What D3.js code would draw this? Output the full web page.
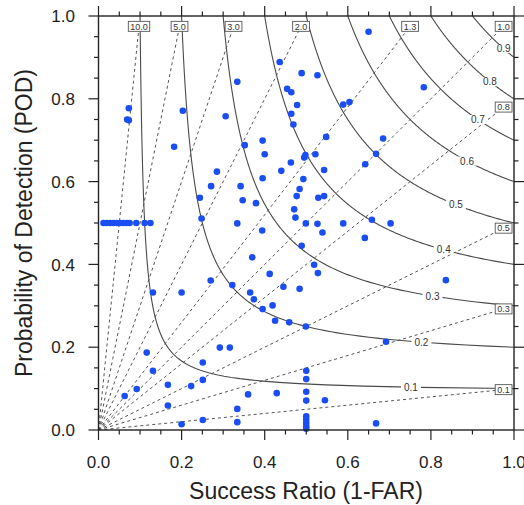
<!DOCTYPE html>
<html>
<head>
<meta charset="utf-8">
<script src="https://cdn.jsdelivr.net/npm/d3@7"></script>
<style>
  html, body { margin: 0; padding: 0; background: #fff; }
  svg { display: block; font-family: "Liberation Sans", Arial, Helvetica, sans-serif; }
</style>
</head>
<body>
<svg id="chart" width="524" height="505"></svg>
<script>
// ---- data ----
const successRatio = [
  0.012, 0.020, 0.028, 0.036, 0.044, 0.052, 0.060, 0.068, 0.075, 0.091, 0.111, 0.125,
  0.073, 0.069, 0.073, 0.203, 0.182, 0.334, 0.306, 0.436, 0.489, 0.527,
  0.454, 0.464, 0.478, 0.464, 0.469, 0.352, 0.395, 0.400, 0.463, 0.495,
  0.498, 0.522, 0.440, 0.395, 0.493, 0.543, 0.285, 0.271, 0.342, 0.484,
  0.477, 0.244, 0.347, 0.379, 0.471, 0.474, 0.248, 0.334, 0.394, 0.499,
  0.527, 0.589, 0.658, 0.703, 0.650, 0.783, 0.589, 0.604, 0.548, 0.685,
  0.668, 0.642, 0.529, 0.543, 0.539, 0.641, 0.489, 0.370, 0.519, 0.528,
  0.412, 0.836, 0.270, 0.322, 0.445, 0.484, 0.131, 0.200, 0.365, 0.374,
  0.419, 0.395, 0.425, 0.459, 0.499, 0.692, 0.116, 0.292, 0.316, 0.251,
  0.131, 0.251, 0.167, 0.223, 0.092, 0.063, 0.360, 0.429, 0.500, 0.500,
  0.500, 0.500, 0.545, 0.167, 0.334, 0.251, 0.200, 0.334, 0.668, 0.500,
  0.500, 0.500, 0.500, 0.500
];
const probDetection = [
  0.500, 0.500, 0.500, 0.500, 0.500, 0.500, 0.500, 0.500, 0.500, 0.500, 0.500, 0.500,
  0.777, 0.750, 0.748, 0.771, 0.684, 0.841, 0.758, 0.889, 0.862, 0.857,
  0.824, 0.816, 0.785, 0.764, 0.738, 0.688, 0.699, 0.666, 0.646, 0.658,
  0.664, 0.666, 0.626, 0.608, 0.606, 0.628, 0.624, 0.589, 0.589, 0.582,
  0.565, 0.561, 0.555, 0.548, 0.533, 0.513, 0.511, 0.499, 0.482, 0.499,
  0.498, 0.499, 0.508, 0.499, 0.962, 0.828, 0.786, 0.792, 0.708, 0.704,
  0.667, 0.642, 0.561, 0.565, 0.477, 0.464, 0.445, 0.417, 0.399, 0.379,
  0.377, 0.362, 0.361, 0.350, 0.346, 0.341, 0.332, 0.332, 0.332, 0.316,
  0.301, 0.292, 0.264, 0.260, 0.250, 0.213, 0.187, 0.199, 0.199, 0.163,
  0.143, 0.121, 0.109, 0.106, 0.099, 0.082, 0.086, 0.089, 0.143, 0.123,
  0.0925, 0.071, 0.072, 0.059, 0.051, 0.024, 0.014, 0.019, 0.016, 0.033,
  0.025, 0.017, 0.009, 0.003
];
const csiLevels = [0.1, 0.2, 0.3, 0.4, 0.5, 0.6, 0.7, 0.8, 0.9];
const csiLabelSR = [0.752, 0.777, 0.804, 0.831, 0.860, 0.887, 0.913, 0.942, 0.975];
const biasLevels = [10, 5, 3, 2, 1.3, 1.0, 0.8, 0.5, 0.3, 0.1];
const biasLabels = ["10.0", "5.0", "3.0", "2.0", "1.3", "1.0", "0.8", "0.5", "0.3", "0.1"];
const majorTicks = [0, 0.2, 0.4, 0.6, 0.8, 1.0];
const tickLabels = ["0.0", "0.2", "0.4", "0.6", "0.8", "1.0"];
const minorTicks = [0.05, 0.1, 0.15, 0.25, 0.3, 0.35, 0.45, 0.5, 0.55, 0.65, 0.7, 0.75, 0.85, 0.9, 0.95];

// ---- layout ----
const svg = d3.select("#chart");
const x = d3.scaleLinear().domain([0, 1]).range([98.5, 514]);
const y = d3.scaleLinear().domain([0, 1]).range([430, 16]);
const labelEdge = 0.975;

const defs = svg.append("defs");
defs.append("clipPath").attr("id", "plotclip").append("rect")
  .attr("x", x(0)).attr("y", y(1)).attr("width", x(1) - x(0)).attr("height", y(0) - y(1));

const plot = svg.append("g").attr("clip-path", "url(#plotclip)");

// CSI contours
const csiSR = (c, pod) => 1 / (1 / c + 1 - 1 / pod);
const line = d3.line().x(d => x(d[0])).y(d => y(d[1]));
csiLevels.forEach(c => {
  const pts = d3.range(0, 301).map(i => {
    const pod = c + (1 - c) * i / 300;
    return [Math.min(csiSR(c, pod), 1.2), pod];
  });
  plot.append("path").attr("d", line(pts))
    .attr("fill", "none").attr("stroke", "#4a4a4a").attr("stroke-width", 1.1);
});

// Bias lines
biasLevels.forEach(b => {
  const end = b >= 1 ? [labelEdge / b, labelEdge] : [labelEdge, labelEdge * b];
  plot.append("path").attr("d", line([[0, 0], end]))
    .attr("fill", "none").attr("stroke", "#555").attr("stroke-width", 1)
    .attr("stroke-dasharray", "3,3");
});

// CSI labels
csiLevels.forEach((c, i) => {
  const sr = csiLabelSR[i];
  const pod = 1 / (1 / c + 1 - 1 / sr);
  const cx = x(sr), cy = y(pod);
  plot.append("rect").attr("x", cx - 10).attr("y", cy - 4.5).attr("width", 20).attr("height", 9)
    .attr("fill", "#fff");
  plot.append("text").attr("x", cx).attr("y", cy).attr("dy", "0.36em")
    .attr("text-anchor", "middle").attr("font-size", 10).attr("fill", "#333").text(String(c));
});

// Bias label boxes
biasLevels.forEach((b, i) => {
  const pos = b >= 1 ? [labelEdge / b, labelEdge] : [labelEdge, labelEdge * b];
  const cx = x(pos[0]), cy = y(pos[1]);
  const t = biasLabels[i];
  const w = t.length * 4.6 + 3;
  svg.append("rect").attr("x", cx - w / 2).attr("y", cy - 5).attr("width", w).attr("height", 10)
    .attr("fill", "#fff").attr("stroke", "#555").attr("stroke-width", 0.9);
  svg.append("text").attr("x", cx).attr("y", cy).attr("dy", "0.36em")
    .attr("text-anchor", "middle").attr("font-size", 9).attr("fill", "#333").text(t);
});

// Points
svg.append("g").selectAll("circle").data(successRatio.map((s, i) => [s, probDetection[i]]))
  .join("circle")
  .attr("cx", d => x(d[0])).attr("cy", d => y(d[1])).attr("r", 3.3)
  .attr("fill", "#1a4ef2");

// Frame
svg.append("rect").attr("x", x(0)).attr("y", y(1)).attr("width", x(1) - x(0)).attr("height", y(0) - y(1))
  .attr("fill", "none").attr("stroke", "#222").attr("stroke-width", 1.4);

// Ticks
const tk = svg.append("g").attr("stroke", "#222").attr("stroke-width", 1.2);
function ticks(vals, len) {
  vals.forEach(v => {
    tk.append("line").attr("x1", x(v)).attr("x2", x(v)).attr("y1", y(0)).attr("y2", y(0) + len);
    tk.append("line").attr("x1", x(v)).attr("x2", x(v)).attr("y1", y(1)).attr("y2", y(1) - len);
    tk.append("line").attr("y1", y(v)).attr("y2", y(v)).attr("x1", x(0)).attr("x2", x(0) - len);
    tk.append("line").attr("y1", y(v)).attr("y2", y(v)).attr("x1", x(1)).attr("x2", x(1) + len);
  });
}
ticks(majorTicks, 10);
ticks(minorTicks, 4.5);

// Tick labels
majorTicks.forEach((v, i) => {
  svg.append("text").attr("x", x(v)).attr("y", 468).attr("text-anchor", "middle")
    .attr("font-size", 17).attr("fill", "#222").text(tickLabels[i]);
  svg.append("text").attr("x", 75).attr("y", y(v)).attr("dy", "0.36em").attr("text-anchor", "end")
    .attr("font-size", 17).attr("fill", "#222").text(tickLabels[i]);
});

// Axis titles
svg.append("text").attr("x", 306).attr("y", 499).attr("text-anchor", "middle")
  .attr("font-size", 23).attr("fill", "#222").text("Success Ratio (1-FAR)");
svg.append("text").attr("transform", "translate(32,223) rotate(-90)").attr("text-anchor", "middle")
  .attr("font-size", 23).attr("fill", "#222").text("Probability of Detection (POD)");
</script>
</body>
</html>
